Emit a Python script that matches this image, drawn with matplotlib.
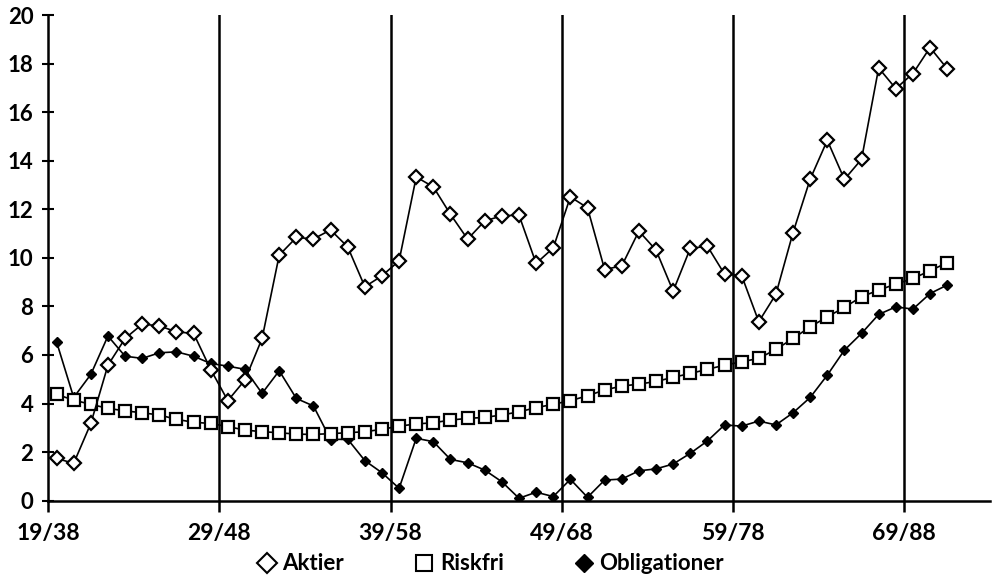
import matplotlib
matplotlib.use("Agg")
import matplotlib.pyplot as plt
from matplotlib.lines import Line2D

plt.rcParams['font.family'] = ['Lato', 'DejaVu Sans']
plt.rcParams['font.weight'] = 'bold'

tick_labels = ["19/38", "29/48", "39/58", "49/68", "59/78", "69/88"]

aktier = [1.74, 1.54, 3.18, 5.58, 6.68, 7.27, 7.20, 6.95, 6.89, 5.40,
          4.12, 4.97, 6.68, 10.11, 10.84, 10.78, 11.15, 10.45, 8.81, 9.26,
          9.88, 13.33, 12.92, 11.79, 10.77, 11.52, 11.73, 11.76, 9.77, 10.41,
          12.51, 12.06, 9.52, 9.67, 11.10, 10.32, 8.63, 10.39, 10.48, 9.33,
          9.27, 7.37, 8.50, 11.04, 13.24, 14.84, 13.23, 14.06, 17.82, 16.97,
          17.59, 18.66, 17.79]

riskfri = [4.38, 4.14, 3.97, 3.80, 3.70, 3.62, 3.53, 3.35, 3.23, 3.18,
           3.05, 2.91, 2.84, 2.80, 2.74, 2.73, 2.76, 2.80, 2.84, 2.94,
           3.07, 3.16, 3.21, 3.32, 3.39, 3.43, 3.53, 3.66, 3.83, 3.97,
           4.12, 4.32, 4.56, 4.72, 4.80, 4.91, 5.08, 5.24, 5.41, 5.58,
           5.72, 5.86, 6.23, 6.68, 7.16, 7.57, 7.96, 8.40, 8.67, 8.92,
           9.15, 9.47, 9.80]

obligationer = [6.54, 4.25, 5.20, 6.78, 5.95, 5.86, 6.09, 6.13, 5.95, 5.65,
                5.54, 5.41, 4.42, 5.35, 4.21, 3.90, 2.52, 2.53, 1.65, 1.15,
                0.51, 2.57, 2.43, 1.70, 1.56, 1.26, 0.78, 0.10, 0.35, 0.17,
                0.88, 0.14, 0.85, 0.89, 1.23, 1.31, 1.51, 1.95, 2.46, 3.12,
                3.07, 3.28, 3.12, 3.62, 4.25, 5.17, 6.20, 6.89, 7.67, 7.98,
                7.89, 8.53, 8.88]

n_slots = 55
x = [i + 0.5 for i in range(len(aktier))]

fig = plt.figure(figsize=(9.93, 5.79), dpi=100)
ax = fig.add_axes([48/993, (579-500.7)/579, (990-48)/993, 485.7/579])

tick_pos = [10 * k for k in range(len(tick_labels))]
for p in tick_pos[1:]:
    ax.axvline(p, color='black', lw=1.8, zorder=1)

ax.plot(x, obligationer, color='black', lw=1.2, marker='D', ms=5.5,
        mfc='black', mec='black', zorder=3)
ax.plot(x, riskfri, color='black', lw=1.2, marker='s', ms=9,
        mfc='white', mec='black', mew=1.6, zorder=4)
ax.plot(x, aktier, color='black', lw=1.2, marker='D', ms=7,
        mfc='white', mec='black', mew=1.6, zorder=5)

ax.set_xlim(0, n_slots)
ax.set_ylim(0, 20)
ax.set_yticks(range(0, 21, 2))
ax.set_xticks(tick_pos)
ax.set_xticklabels(tick_labels)
for s in ['top', 'right']:
    ax.spines[s].set_visible(False)
for s in ['left', 'bottom']:
    ax.spines[s].set_linewidth(1.8)
ax.tick_params(axis='y', direction='inout', length=9, width=1.5, pad=6, labelsize=16)
ax.tick_params(axis='x', direction='out', length=8, width=1.8, pad=8, labelsize=16.5)

handles = [
    Line2D([], [], ls='none', marker='D', ms=10, mfc='white', mec='black', mew=1.5),
    Line2D([], [], ls='none', marker='s', ms=12, mfc='white', mec='black', mew=1.5),
    Line2D([], [], ls='none', marker='D', ms=9, mfc='black', mec='black'),
]
fig.legend(handles, ["Aktier", "Riskfri", "Obligationer"], loc='center',
           bbox_to_anchor=(491/993, 1 - 564/579), ncol=3, frameon=False,
           fontsize=16, handlelength=0.8, handletextpad=0.3, columnspacing=3.2,
           borderpad=0, borderaxespad=0)

fig.savefig("out.png", dpi=100)
